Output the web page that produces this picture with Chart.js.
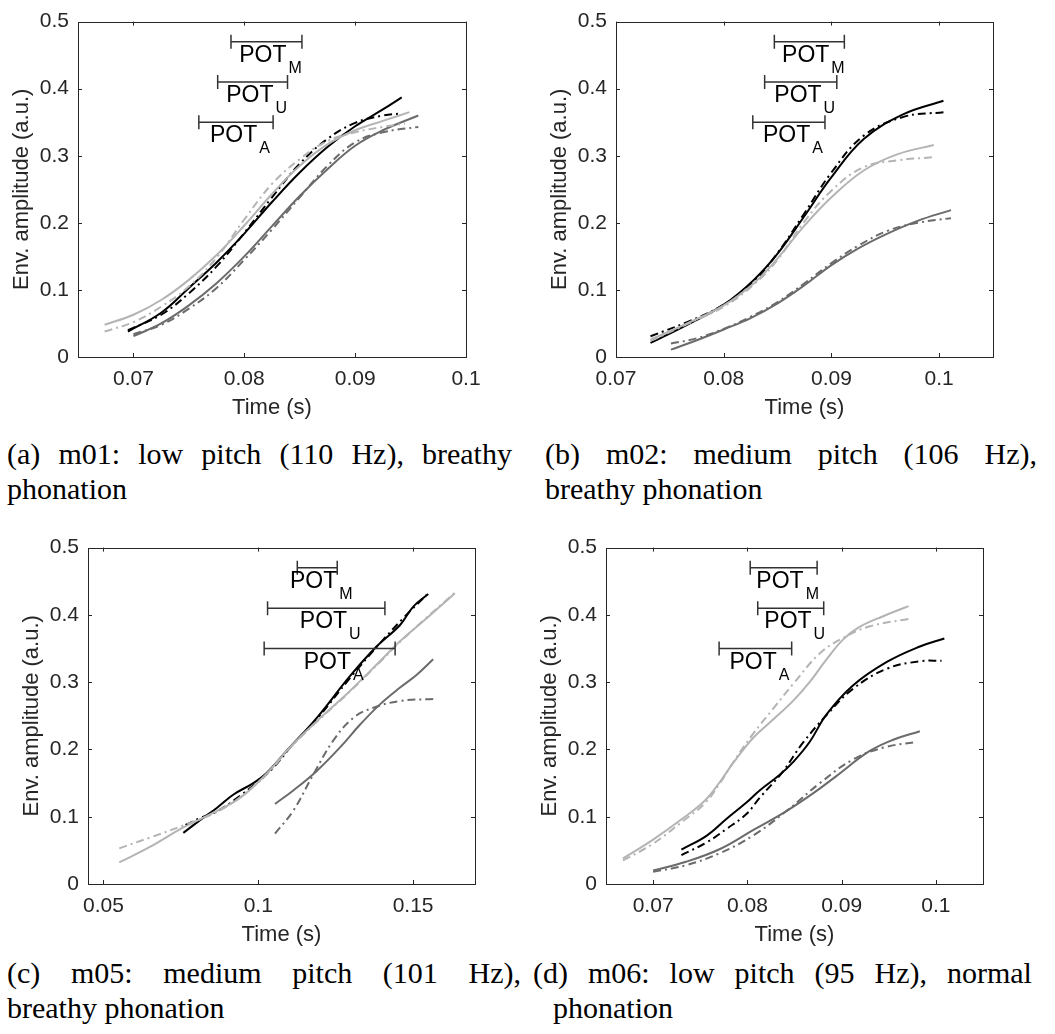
<!DOCTYPE html>
<html lang="en">
<head>
    <meta charset="UTF-8">
    <title>Envelope amplitude vs time</title>
    <script src="https://cdn.jsdelivr.net/npm/chart.js"></script>
    <style>
        body { margin: 0; background: #fff; }
        #page { position: relative; width: 1055px; height: 1034px; overflow: hidden; }
        canvas { position: absolute; }
        .cap { position: absolute; font-family: "Liberation Serif", "Times New Roman", serif; font-size: 30px; line-height: 35px; color: #000; white-space: nowrap; }
        .just { display: flex; justify-content: space-between; }
    </style>
</head>
<body>
<div id="page">
    <div class="cap just" style="left:7px; top:436px; width:505px;"><span>(a)</span><span>m01:</span><span>low</span><span>pitch</span><span>(110</span><span>Hz),</span><span>breathy</span></div>
    <div class="cap" style="left:7px; top:471px;">phonation</div>
    <div class="cap just" style="left:545px; top:436px; width:492px;"><span>(b)</span><span>m02:</span><span>medium</span><span>pitch</span><span>(106</span><span>Hz),</span></div>
    <div class="cap" style="left:545px; top:471px;">breathy phonation</div>
    <div class="cap just" style="left:7px; top:955px; width:514px;"><span>(c)</span><span>m05:</span><span>medium</span><span>pitch</span><span>(101</span><span>Hz),</span></div>
    <div class="cap" style="left:7px; top:990px;">breathy phonation</div>
    <div class="cap just" style="left:533px; top:955px; width:499px;"><span>(d)</span><span>m06:</span><span>low</span><span>pitch</span><span>(95</span><span>Hz),</span><span>normal</span></div>
    <div class="cap" style="left:553px; top:990px;">phonation</div>
</div>

<script>
    // ---- data: [time (s), envelope amplitude (a.u.)] ----
    const ampTicks = [0, 0.1, 0.2, 0.3, 0.4, 0.5];

    // m01
    const m01_xTicks = [0.07, 0.08, 0.09, 0.1];
    const m01_blackSolid = [[0.0695,0.038],[0.0725,0.066],[0.075,0.103],[0.0775,0.141],[0.08,0.184],[0.0825,0.231],[0.085,0.275],[0.0875,0.313],[0.09,0.344],[0.0925,0.369],[0.0942,0.387]];
    const m01_blackDash  = [[0.0695,0.040],[0.0725,0.063],[0.075,0.095],[0.0775,0.135],[0.08,0.185],[0.0825,0.238],[0.085,0.288],[0.0875,0.325],[0.09,0.349],[0.0925,0.360],[0.0942,0.363]];
    const m01_lightSolid = [[0.0674,0.048],[0.07,0.063],[0.0725,0.085],[0.075,0.115],[0.0775,0.152],[0.08,0.196],[0.0825,0.243],[0.085,0.285],[0.0875,0.317],[0.09,0.338],[0.0925,0.352],[0.0949,0.365]];
    const m01_lightDash  = [[0.0674,0.038],[0.07,0.052],[0.0725,0.075],[0.075,0.105],[0.0775,0.148],[0.08,0.205],[0.0825,0.258],[0.085,0.295],[0.0875,0.322],[0.09,0.335],[0.0925,0.343],[0.0945,0.348]];
    const m01_darkSolid  = [[0.07,0.031],[0.0725,0.050],[0.075,0.077],[0.0775,0.110],[0.08,0.150],[0.0825,0.195],[0.085,0.240],[0.0875,0.280],[0.09,0.315],[0.0925,0.338],[0.0957,0.360]];
    const m01_darkDash   = [[0.07,0.034],[0.0725,0.048],[0.075,0.072],[0.0775,0.103],[0.08,0.145],[0.0825,0.190],[0.085,0.238],[0.0875,0.285],[0.09,0.320],[0.0925,0.335],[0.0957,0.343]];
    const m01_pot = [['M', 0.0788, 0.0852, 0.47], ['U', 0.0776, 0.0839, 0.41], ['A', 0.0759, 0.0826, 0.35]];

    // m02
    const m02_xTicks = [0.07, 0.08, 0.09, 0.1];
    const m02_blackSolid = [[0.0732,0.021],[0.0766,0.048],[0.08,0.078],[0.0828,0.115],[0.085,0.154],[0.0874,0.208],[0.09,0.268],[0.093,0.325],[0.0967,0.362],[0.1004,0.382]];
    const m02_blackDash  = [[0.0732,0.031],[0.0766,0.052],[0.08,0.078],[0.0828,0.113],[0.085,0.155],[0.0874,0.212],[0.09,0.275],[0.093,0.330],[0.0967,0.358],[0.1004,0.365]];
    const m02_lightSolid = [[0.0732,0.026],[0.0766,0.050],[0.08,0.077],[0.0828,0.110],[0.085,0.147],[0.0874,0.194],[0.09,0.238],[0.093,0.278],[0.0961,0.302],[0.0995,0.316]];
    const m02_lightDash  = [[0.0732,0.024],[0.0766,0.049],[0.08,0.075],[0.0828,0.108],[0.085,0.145],[0.0874,0.200],[0.09,0.248],[0.093,0.283],[0.0961,0.293],[0.0995,0.298]];
    const m02_darkSolid  = [[0.0751,0.011],[0.0775,0.025],[0.08,0.041],[0.0825,0.058],[0.085,0.080],[0.0875,0.107],[0.09,0.137],[0.0925,0.162],[0.0952,0.184],[0.098,0.203],[0.1011,0.219]];
    const m02_darkDash   = [[0.0751,0.020],[0.0775,0.028],[0.08,0.042],[0.0825,0.060],[0.085,0.082],[0.0875,0.110],[0.09,0.140],[0.0925,0.166],[0.0952,0.188],[0.098,0.200],[0.1011,0.207]];
    const m02_pot = [['M', 0.0847, 0.0912, 0.47], ['U', 0.0838, 0.0905, 0.41], ['A', 0.0827, 0.0894, 0.35]];

    // m05
    const m05_xTicks = [0.05, 0.1, 0.15];
    const m05_blackSolid = [[0.0758,0.076],[0.0812,0.095],[0.0866,0.113],[0.092,0.133],[0.0984,0.150],[0.1027,0.165],[0.1092,0.198],[0.1189,0.247],[0.1296,0.309],[0.1382,0.353],[0.1458,0.385],[0.150,0.412],[0.1549,0.431]];
    const m05_blackDash  = [[0.0765,0.088],[0.0812,0.098],[0.0866,0.108],[0.0941,0.131],[0.1038,0.168],[0.1113,0.208],[0.1189,0.245],[0.1296,0.306],[0.1382,0.352],[0.1468,0.395],[0.1544,0.430]];
    const m05_lightSolid = [[0.0551,0.032],[0.065,0.055],[0.0758,0.084],[0.0855,0.106],[0.0941,0.128],[0.1027,0.164],[0.1102,0.203],[0.1189,0.242],[0.1296,0.287],[0.1393,0.331],[0.1458,0.361],[0.1544,0.395],[0.1598,0.417],[0.1635,0.432]];
    const m05_lightDash  = [[0.0551,0.053],[0.065,0.069],[0.0758,0.087],[0.0866,0.107],[0.0941,0.129],[0.1027,0.163],[0.1102,0.202],[0.1189,0.241],[0.1296,0.286],[0.1393,0.330],[0.1458,0.360],[0.1544,0.396],[0.1635,0.433]];
    const m05_darkSolid  = [[0.1054,0.119],[0.1113,0.139],[0.1189,0.168],[0.1264,0.203],[0.1329,0.237],[0.1393,0.267],[0.1458,0.292],[0.1512,0.311],[0.1565,0.334]];
    const m05_darkDash   = [[0.1054,0.075],[0.1113,0.109],[0.1178,0.163],[0.1242,0.213],[0.1307,0.247],[0.1372,0.262],[0.1458,0.272],[0.1565,0.275]];
    const m05_pot = [['M', 0.1126, 0.1255, 0.47], ['U', 0.1030, 0.1409, 0.41], ['A', 0.1019, 0.1442, 0.35]];

    // m06
    const m06_xTicks = [0.07, 0.08, 0.09, 0.1];
    const m06_blackSolid = [[0.073,0.051],[0.0757,0.072],[0.0778,0.097],[0.0799,0.121],[0.0813,0.139],[0.0834,0.162],[0.0849,0.182],[0.0866,0.211],[0.0884,0.252],[0.0912,0.295],[0.0948,0.330],[0.0983,0.353],[0.1009,0.365]];
    const m06_blackDash  = [[0.073,0.043],[0.0757,0.062],[0.0778,0.082],[0.0799,0.104],[0.0813,0.128],[0.0837,0.166],[0.0859,0.210],[0.0884,0.251],[0.0912,0.290],[0.0948,0.320],[0.0983,0.331],[0.1006,0.332]];
    const m06_lightSolid = [[0.0668,0.038],[0.07,0.066],[0.0732,0.098],[0.0755,0.124],[0.0771,0.152],[0.0785,0.180],[0.0806,0.217],[0.0827,0.244],[0.0849,0.273],[0.0866,0.300],[0.0884,0.334],[0.0902,0.364],[0.0919,0.382],[0.0944,0.398],[0.0971,0.413]];
    const m06_lightDash  = [[0.0668,0.035],[0.07,0.060],[0.0732,0.094],[0.0755,0.120],[0.0771,0.150],[0.0785,0.181],[0.0806,0.223],[0.0827,0.260],[0.0849,0.298],[0.0877,0.343],[0.0902,0.366],[0.093,0.383],[0.0971,0.394]];
    const m06_darkSolid  = [[0.07,0.020],[0.0735,0.033],[0.0771,0.052],[0.0806,0.080],[0.0841,0.108],[0.087,0.135],[0.0894,0.160],[0.0929,0.197],[0.0954,0.214],[0.0983,0.227]];
    const m06_darkDash   = [[0.07,0.018],[0.0735,0.028],[0.0771,0.046],[0.0806,0.072],[0.0841,0.108],[0.0877,0.150],[0.0912,0.185],[0.0945,0.203],[0.0979,0.211]];
    const m06_pot = [['M', 0.0803, 0.0874, 0.47], ['U', 0.0811, 0.0881, 0.41], ['A', 0.0770, 0.0847, 0.35]];

    // ---- styling / layout ----
    const BLACK = '#000000', LIGHT = '#b4b4b4', DARK = '#6b6b6b', AXIS = '#262626';
    const DASHDOT = [8, 4, 2, 4];
    const SANS = '"Liberation Sans", Arial, Helvetica, sans-serif';

    const panels = [
        { plot: [78, 20, 466, 357],  xMin: 0.065, xMax: 0.1,   xTicks: m01_xTicks, pot: m01_pot,
          lines: [m01_lightSolid, m01_lightDash, m01_darkSolid, m01_darkDash, m01_blackSolid, m01_blackDash] },
        { plot: [616, 20, 993, 357], xMin: 0.07,  xMax: 0.105, xTicks: m02_xTicks, pot: m02_pot,
          lines: [m02_lightSolid, m02_lightDash, m02_darkSolid, m02_darkDash, m02_blackSolid, m02_blackDash] },
        { plot: [88, 546, 475, 884], xMin: 0.045, xMax: 0.17,  xTicks: m05_xTicks, pot: m05_pot,
          lines: [m05_lightSolid, m05_lightDash, m05_darkSolid, m05_darkDash, m05_blackSolid, m05_blackDash] },
        { plot: [606, 546, 983, 884], xMin: 0.065, xMax: 0.105, xTicks: m06_xTicks, pot: m06_pot,
          lines: [m06_lightSolid, m06_lightDash, m06_darkSolid, m06_darkDash, m06_blackSolid, m06_blackDash] }
    ];
    const lineStyles = [
        { color: LIGHT, dash: [] }, { color: LIGHT, dash: DASHDOT },
        { color: DARK,  dash: [] }, { color: DARK,  dash: DASHDOT },
        { color: BLACK, dash: [] }, { color: BLACK, dash: DASHDOT }
    ];

    const fmt = v => String(+v.toFixed(3));

    // MATLAB-like box with inward ticks, plus the POT interval bars
    const matlabAxes = {
        id: 'matlabAxes',
        afterDraw(chart, args, opts) {
            const { ctx, chartArea: a, scales: { x, y } } = chart;
            ctx.save();
            ctx.strokeStyle = AXIS;
            ctx.lineWidth = 1;
            ctx.strokeRect(Math.round(a.left) + 0.5, Math.round(a.top) + 0.5,
                           Math.round(a.right - a.left), Math.round(a.bottom - a.top));
            ctx.beginPath();
            x.ticks.forEach(t => {
                const px = Math.round(x.getPixelForValue(t.value)) + 0.5;
                ctx.moveTo(px, a.bottom); ctx.lineTo(px, a.bottom - 4);
                ctx.moveTo(px, a.top); ctx.lineTo(px, a.top + 4);
            });
            y.ticks.forEach(t => {
                const py = Math.round(y.getPixelForValue(t.value)) + 0.5;
                ctx.moveTo(a.left, py); ctx.lineTo(a.left + 4, py);
                ctx.moveTo(a.right, py); ctx.lineTo(a.right - 4, py);
            });
            ctx.stroke();

            // POT bars
            ctx.strokeStyle = '#333333';
            ctx.lineWidth = 1.5;
            ctx.fillStyle = '#000';
            opts.pot.forEach(([sub, x0, x1, yv]) => {
                const p0 = x.getPixelForValue(x0), p1 = x.getPixelForValue(x1);
                const py = y.getPixelForValue(yv);
                ctx.beginPath();
                ctx.moveTo(p0, py); ctx.lineTo(p1, py);
                ctx.moveTo(p0, py - 7); ctx.lineTo(p0, py + 7);
                ctx.moveTo(p1, py - 7); ctx.lineTo(p1, py + 7);
                ctx.stroke();
                ctx.font = '23px ' + SANS;
                const wMain = ctx.measureText('POT').width;
                ctx.font = '16px ' + SANS;
                const wSub = ctx.measureText(sub).width;
                const start = (p0 + p1) / 2 - (wMain + 2 + wSub) / 2 + 4;
                ctx.textBaseline = 'alphabetic';
                ctx.textAlign = 'left';
                ctx.font = '23px ' + SANS;
                ctx.fillText('POT', start, py + 20);
                ctx.font = '16px ' + SANS;
                ctx.fillText(sub, start + wMain + 2, py + 31);
            });
            ctx.restore();
        }
    };

    const page = document.getElementById('page');
    panels.forEach(p => {
        const [l, t, r, b] = p.plot;
        const canvas = document.createElement('canvas');
        canvas.width = (r - l) + 78 + 30;
        canvas.height = (b - t) + 20 + 80;
        canvas.style.left = (l - 78) + 'px';
        canvas.style.top = (t - 20) + 'px';
        page.appendChild(canvas);

        new Chart(canvas.getContext('2d'), {
            type: 'line',
            data: {
                datasets: p.lines.map((pts, i) => ({
                    data: pts,
                    borderColor: lineStyles[i].color,
                    borderDash: lineStyles[i].dash,
                    borderWidth: 2,
                    pointRadius: 0,
                    fill: false,
                    tension: 0.4
                }))
            },
            options: {
                responsive: false,
                animation: false,
                devicePixelRatio: 1,
                layout: { padding: { top: 20, right: 30, left: 0, bottom: 0 } },
                plugins: { legend: { display: false }, tooltip: { enabled: false }, matlabAxes: { pot: p.pot } },
                scales: {
                    x: {
                        type: 'linear',
                        min: p.xMin, max: p.xMax,
                        afterBuildTicks: s => { s.ticks = p.xTicks.map(v => ({ value: v })); },
                        afterFit: s => { s.height = 80; },
                        grid: { display: false, drawTicks: false },
                        border: { display: false },
                        ticks: { color: AXIS, font: { family: SANS, size: 21 }, padding: 10, maxRotation: 0, callback: v => fmt(v) },
                        title: { display: true, text: 'Time (s)', color: AXIS, font: { family: SANS, size: 22 }, padding: { top: 0, bottom: 16 } }
                    },
                    y: {
                        type: 'linear',
                        min: 0, max: 0.5,
                        afterBuildTicks: s => { s.ticks = ampTicks.map(v => ({ value: v })); },
                        afterFit: s => { s.width = 78; },
                        grid: { display: false, drawTicks: false },
                        border: { display: false },
                        ticks: { color: AXIS, font: { family: SANS, size: 21 }, padding: 9, callback: v => fmt(v) },
                        title: { display: true, text: 'Env. amplitude (a.u.)', color: AXIS, font: { family: SANS, size: 22 }, padding: { top: 9, bottom: 0 } }
                    }
                }
            },
            plugins: [matlabAxes]
        });
    });
</script>
</body>
</html>
